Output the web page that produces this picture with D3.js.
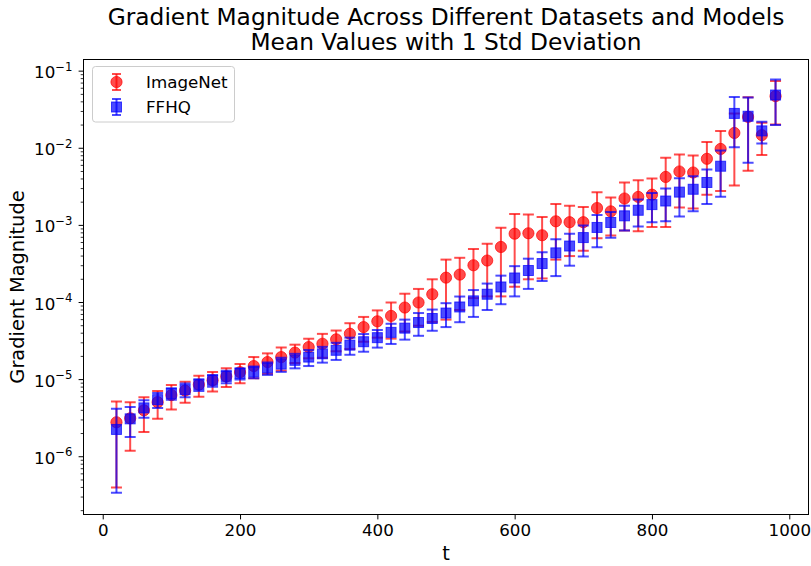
<!DOCTYPE html>
<html><head><meta charset="utf-8">
<script src="https://cdn.jsdelivr.net/npm/d3@7/dist/d3.min.js"></script>
<style>body{margin:0;background:#fff;} svg{display:block;font-family:"DejaVu Sans",sans-serif;}</style>
</head><body>
<svg id="c" width="811" height="566"></svg>
<script>
const tValues = [20,40,60,80,100,120,140,160,180,200,220,240,260,280,300,320,340,360,380,400,420,440,460,480,500,520,540,560,580,600,620,640,660,680,700,720,740,760,780,800,820,840,860,880,900,920,940,960,980];
const imagenetMean = [2.8e-6,3.15e-6,4.0e-6,5.1e-6,6.3e-6,7.2e-6,8.6e-6,9.8e-6,1.1e-5,1.25e-5,1.5e-5,1.69e-5,1.96e-5,2.24e-5,2.64e-5,2.92e-5,3.33e-5,3.94e-5,4.8e-5,5.7e-5,6.7e-5,8.6e-5,1.0e-4,1.28e-4,2.1e-4,2.3e-4,3.04e-4,3.5e-4,5.25e-4,7.8e-4,7.9e-4,7.45e-4,1.13e-3,1.1e-3,1.1e-3,1.68e-3,1.52e-3,2.23e-3,2.34e-3,2.5e-3,4.25e-3,5.0e-3,4.85e-3,7.3e-3,9.8e-3,1.58e-2,2.55e-2,1.48e-2,4.74e-2];
const imagenetStd = [2.4e-6,1.95e-6,1.9e-6,2.0e-6,2.2e-6,2.2e-6,2.6e-6,2.8e-6,3.0e-6,3.5e-6,4.6e-6,5.0e-6,6.5e-6,6.0e-6,7.5e-6,1.0e-5,1.0e-5,1.45e-5,1.7e-5,2.2e-5,3.3e-5,4.4e-5,5.0e-5,7.2e-5,1.5e-4,1.5e-4,1.9e-4,2.3e-4,4.05e-4,6.2e-4,5.9e-4,5.4e-4,7.7e-4,7.0e-4,6.3e-4,1.0e-3,7.8e-4,1.37e-3,1.5e-3,1.55e-3,3.3e-3,3.3e-3,3.2e-3,4.8e-3,7.0e-3,1.25e-2,2.04e-2,6.6e-3,2.7e-2];
const ffhqMean = [2.26e-6,3.1e-6,4.3e-6,5.5e-6,6.6e-6,7.4e-6,8.6e-6,9.8e-6,1.1e-5,1.2e-5,1.26e-5,1.41e-5,1.59e-5,1.78e-5,1.96e-5,2.16e-5,2.4e-5,2.8e-5,3.1e-5,3.5e-5,4.1e-5,4.65e-5,5.5e-5,6.2e-5,7.3e-5,8.75e-5,1.05e-4,1.28e-4,1.59e-4,2.08e-4,2.6e-4,3.2e-4,4.4e-4,5.4e-4,6.95e-4,9.4e-4,1.09e-3,1.33e-3,1.57e-3,1.86e-3,2.07e-3,2.7e-3,2.94e-3,3.6e-3,5.85e-3,2.83e-2,2.6e-2,1.68e-2,4.9e-2];
const ffhqStd = [1.92e-6,1.3e-6,1.1e-6,1.2e-6,1.1e-6,1.5e-6,1.5e-6,1.7e-6,2.0e-6,2.0e-6,2.2e-6,2.6e-6,3.3e-6,3.8e-6,4.6e-6,5.0e-6,6.0e-6,7.0e-6,8.0e-6,9.0e-6,1.2e-5,1.35e-5,1.8e-5,1.9e-5,2.5e-5,3.2e-5,4.0e-5,4.8e-5,6.4e-5,8.8e-5,1.1e-4,1.3e-4,2.2e-4,2.4e-4,3.0e-4,4.2e-4,4.0e-4,4.7e-4,6.0e-4,7.6e-4,9.4e-4,1.4e-3,1.41e-3,1.7e-3,3.5e-3,1.8e-2,1.95e-2,5.3e-3,2.9e-2];
const xTicks = [0,200,400,600,800,1000];
const yTickExps = [-6,-5,-4,-3,-2,-1];
const seriesNames = ["ImageNet","FFHQ"];
const seriesColors = ["#ff0000","#0000ff"];

const svg = d3.select("#c");
const L=83.5, R=808.5, T=59.5, B=514.5;
const x = d3.scaleLinear().domain([-28,1028]).range([L,R]);
const y = d3.scaleLog().domain([Math.pow(10,-6.749),Math.pow(10,-0.849)]).range([B,T]);
const FS = 16.7;

svg.append("defs").append("clipPath").attr("id","clip").append("rect")
  .attr("x",L).attr("y",T).attr("width",R-L).attr("height",B-T);

const series = [
  {name:seriesNames[0], color:seriesColors[0], mean:imagenetMean, std:imagenetStd, shape:"circle"},
  {name:seriesNames[1], color:seriesColors[1], mean:ffhqMean, std:ffhqStd, shape:"square"}
];
const plot = svg.append("g").attr("clip-path","url(#clip)");
const cap = 5.5, EW = 2;
function marker(g, s, cx, cy){
  if(s.shape==="circle"){
    g.append("circle").attr("cx",cx).attr("cy",cy).attr("r",5.6)
      .attr("fill",s.color).attr("fill-opacity",0.7).attr("stroke",s.color).attr("stroke-opacity",0.7).attr("stroke-width",1);
  } else {
    g.append("rect").attr("x",cx-5).attr("y",cy-5).attr("width",10).attr("height",10)
      .attr("fill",s.color).attr("fill-opacity",0.7).attr("stroke",s.color).attr("stroke-opacity",0.7).attr("stroke-width",1);
  }
}
series.forEach(s=>{
  const g = plot.append("g");
  const data = tValues.map((t,i)=>({t, m:s.mean[i], lo:Math.max(s.mean[i]-s.std[i],1e-9), hi:s.mean[i]+s.std[i]}));
  const eb = g.append("g").attr("stroke",s.color).attr("stroke-opacity",0.7).attr("stroke-width",EW);
  data.forEach(d=>{
    eb.append("line").attr("x1",x(d.t)).attr("x2",x(d.t)).attr("y1",y(d.lo)).attr("y2",y(d.hi));
    eb.append("line").attr("x1",x(d.t)-cap).attr("x2",x(d.t)+cap).attr("y1",y(d.lo)).attr("y2",y(d.lo));
    eb.append("line").attr("x1",x(d.t)-cap).attr("x2",x(d.t)+cap).attr("y1",y(d.hi)).attr("y2",y(d.hi));
  });
  data.forEach(d=>marker(g, s, x(d.t), y(d.m)));
});

// x axis
const xAxis = svg.append("g").attr("transform",`translate(0,${B})`)
  .call(d3.axisBottom(x).tickValues(xTicks).tickSize(4.9).tickPadding(4.9).tickFormat(d3.format("d")));
xAxis.select(".domain").remove();
xAxis.selectAll("text").attr("font-size",FS).attr("fill","#000").attr("font-family","DejaVu Sans");
xAxis.selectAll("line").attr("stroke","#000").attr("stroke-width",1);

// y axis (log)
const yg = svg.append("g");
const minor = [];
for(let e=-7;e<=-1;e++){ for(let k=2;k<=9;k++){ const v=k*Math.pow(10,e); if(v>=y.domain()[0]&&v<=y.domain()[1]) minor.push(v);} }
yg.selectAll("line.minor").data(minor).join("line").attr("class","minor")
  .attr("x1",L-2.8).attr("x2",L).attr("y1",d=>y(d)).attr("y2",d=>y(d)).attr("stroke","#000").attr("stroke-width",0.8);
yg.selectAll("line.major").data(yTickExps).join("line").attr("class","major")
  .attr("x1",L-4.9).attr("x2",L).attr("y1",d=>y(Math.pow(10,d))).attr("y2",d=>y(Math.pow(10,d))).attr("stroke","#000").attr("stroke-width",1);
const yt = yg.selectAll("text.yt").data(yTickExps).join("text").attr("class","yt")
  .attr("x",L-11).attr("y",d=>y(Math.pow(10,d))+7).attr("text-anchor","end").attr("font-size",FS).attr("fill","#000");
yt.append("tspan").text("10");
yt.append("tspan").attr("dy",-7.5).attr("font-size",11.7).text(d=>"\u2212"+Math.abs(d));

// frame
svg.append("rect").attr("x",L).attr("y",T).attr("width",R-L).attr("height",B-T)
  .attr("fill","none").attr("stroke","#000").attr("stroke-width",1);

// labels
svg.append("text").attr("x",(L+R)/2).attr("y",560).attr("text-anchor","middle").attr("font-size",19.4).text("t");
svg.append("text").attr("transform",`translate(24,${(T+B)/2}) rotate(-90)`).attr("text-anchor","middle").attr("font-size",19.4).text("Gradient Magnitude");
svg.append("text").attr("x",(L+R)/2).attr("y",25).attr("text-anchor","middle").attr("font-size",23.3).text("Gradient Magnitude Across Different Datasets and Models");
svg.append("text").attr("x",(L+R)/2).attr("y",50).attr("text-anchor","middle").attr("font-size",23.3).text("Mean Values with 1 Std Deviation");

// legend
const lg = svg.append("g");
lg.append("rect").attr("x",92.5).attr("y",66.5).attr("width",142).attr("height",55.5).attr("rx",3)
  .attr("fill","#fff").attr("fill-opacity",0.8).attr("stroke","#ccc").attr("stroke-width",1);
series.forEach((s,i)=>{
  const cy = 82 + i*25, cx = 116.5;
  const g = lg.append("g").attr("stroke",s.color).attr("stroke-opacity",0.7).attr("stroke-width",EW);
  g.append("line").attr("x1",cx).attr("x2",cx).attr("y1",cy-8).attr("y2",cy+8);
  g.append("line").attr("x1",cx-4.5).attr("x2",cx+4.5).attr("y1",cy-8).attr("y2",cy-8);
  g.append("line").attr("x1",cx-4.5).attr("x2",cx+4.5).attr("y1",cy+8).attr("y2",cy+8);
  marker(lg, s, cx, cy);
  lg.append("text").attr("x",146).attr("y",cy+6).attr("font-size",FS).text(s.name);
});
</script>
</body></html>
